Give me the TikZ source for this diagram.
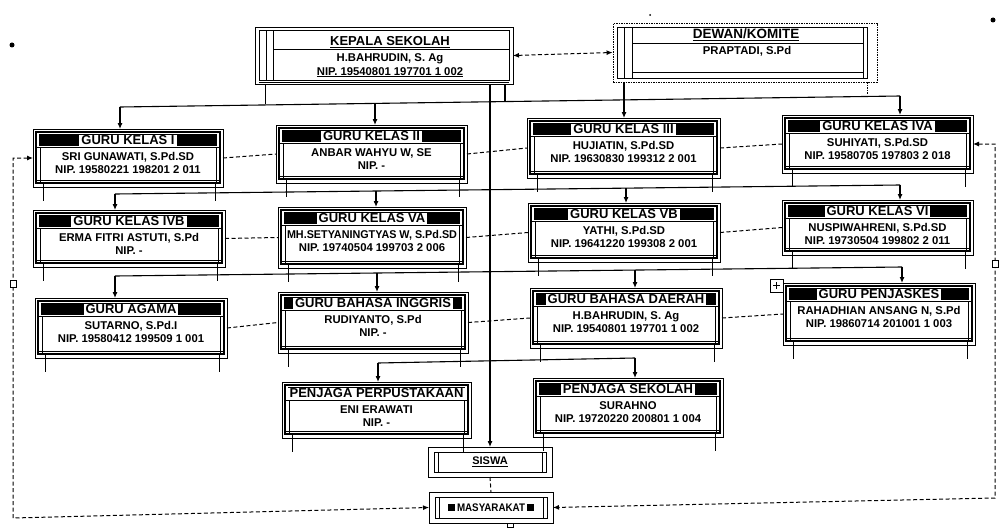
\documentclass[tikz,border=0pt]{standalone}
\usepackage{fontspec}
\setmainfont{Liberation Sans}
\usepackage{graphicx}
\usetikzlibrary{arrows.meta,calc}
\newsavebox\fitbx
\newcommand\fitl[2]{\sbox\fitbx{#2}\ifdim\wd\fitbx>#1\relax\resizebox{#1}{\height}{#2}\else\usebox\fitbx\fi}
\tikzset{
 obox/.style={draw, line width=0.8pt, inner sep=0pt, outer sep=0pt},
 ttl/.style={fill=white, inner xsep=2pt, inner ysep=0pt, text height=9.5pt, text depth=1.5pt, font=\fontsize{13}{13}\selectfont\bfseries},
 txt/.style={inner sep=0pt, text height=8pt, text depth=2pt, font=\fontsize{11.3}{11.3}\selectfont\bfseries},
 con/.style={line width=1.1pt},
 arr/.style={con, -{Latex[length=6pt,width=5pt]}},
 dsh/.style={line width=1pt, dash pattern=on 4pt off 2.5pt},
 dar/.style={dsh, {Latex[length=6pt,width=5pt]}-{Latex[length=6pt,width=5pt]}},
 tick/.style={line width=0.6pt},
}
% name, x1, y1, x2, y2, title, line1, line2
\newcommand\gbox[8]{%
 \node[obox,minimum width={#4-#2},minimum height={#5-#3}] (#1) at ({(#2+#4)/2},{(#3+#5)/2}) {};
 \draw[line width=1.1pt] ({#2+3},{#3+3}) rectangle ({#4-3},{#5-4});
 \fill ({#2+6},{#3+5}) rectangle ({#4-6},{#3+17});
 \draw[line width=0.9pt] ({#2+3},{#3+18.5}) -- ({#4-3},{#3+18.5});
 \draw[tick] ({#2+7},{#3+18.5}) -- ({#2+7},{#5-4}) ({#4-7},{#3+18.5}) -- ({#4-7},{#5-4});
 \draw[tick] ({#2+3},{#5-7}) -- ({#4-3},{#5-7});
 \draw[tick] ({#2+10},{#5-4}) -- ({#2+10},{#5+14}) ({#4-8},{#5-4}) -- ({#4-8},{#5+14});
 \pgfmathsetmacro\mw{#4-#2-18}%
 \pgfmathsetmacro\tw{#4-#2-14}%
 \node[ttl] at ({(#2+#4)/2},{#3+11}) {\fitl{\tw pt}{#6}};
 \node[txt] at ({(#2+#4)/2},{#3+28}) {\fitl{\mw pt}{#7}};
 \node[txt] at ({(#2+#4)/2},{#3+41}) {\fitl{\mw pt}{#8}};
}
\begin{document}
\begin{tikzpicture}[x=1pt,y=-1pt]
\fill[white] (0,0) rectangle (1000,527);
\useasboundingbox (0,0) rectangle (1000,527);

% stray dots of the scan
\fill (12,45) circle (2.5);
\fill (993,20) circle (2.5);
\fill (650,15) circle (1);

% KEPALA SEKOLAH
\node[obox,minimum width=258,minimum height=57] (KS) at (384,55.5) {};
\draw[line width=1pt] (259,31) rectangle (509,80);
\draw[tick] (266,31) -- (266,80) (273,31) -- (273,80);
\draw[line width=0.9pt] (273,49) -- (509,49);
\draw[tick] (259,82) -- (509,82);
\node[inner sep=0pt,font=\fontsize{13}{13}\selectfont\bfseries] at (390,42) {\underline{KEPALA SEKOLAH}};
\node[txt] at (390,59) {H.BAHRUDIN, S. Ag};
\node[txt] at (390,72) {\underline{NIP. 19540801 197701 1 002}};
\draw[tick] (265,84) -- (265,104);

% DEWAN / KOMITE
\node[draw,line width=0.9pt,dash pattern=on 1.5pt off 1pt,inner sep=0pt,minimum width=264,minimum height=59] (DW) at (745,52.5) {};
\draw[line width=0.9pt] (617,27) rectangle (867,78);
\draw[tick] (624,27) -- (624,78) (632,27) -- (632,78) (863,27) -- (863,78);
\draw[line width=0.9pt] (632,43) -- (863,43);
\draw[tick] (632,72) -- (863,72);
\draw[tick,dash pattern=on 1.5pt off 1pt] (867,82) -- (867,94);
\node[inner sep=0pt,font=\fontsize{13.5}{13.5}\selectfont\bfseries] at (746,35) {\underline{DEWAN/KOMITE}};
\node[txt] at (747,52) {PRAPTADI, S.Pd};

\draw[dar] (KS.east) -- (DW.west);

% row 1
\gbox{KA}{33}{129}{223}{187}{GURU KELAS I}{SRI GUNAWATI, S.Pd.SD}{NIP. 19580221 198201 2 011}
\gbox{KB}{276}{125}{467}{183}{GURU KELAS II}{ANBAR WAHYU W, SE}{NIP. -}
\gbox{KC}{527}{118}{720}{178}{GURU KELAS III}{HUJIATIN, S.Pd.SD}{NIP. 19630830 199312 2 001}
\gbox{KD}{782}{115}{973}{173}{GURU KELAS IVA}{SUHIYATI, S.Pd.SD}{NIP. 19580705 197803 2 018}
% row 2
\gbox{KE}{33}{210}{225}{267}{GURU KELAS IVB}{ERMA FITRI ASTUTI, S.Pd}{NIP. -}
\gbox{KF}{278}{207}{466}{268}{GURU KELAS VA}{MH.SETYANINGTYAS W, S.Pd.SD}{NIP. 19740504 199703 2 006}
\gbox{KG}{528}{203}{720}{262}{GURU KELAS VB}{YATHI, S.Pd.SD}{NIP. 19641220 199308 2 001}
\gbox{KH}{782}{200}{973}{255}{GURU KELAS VI}{NUSPIWAHRENI, S.Pd.SD}{NIP. 19730504 199802 2 011}
% row 3
\gbox{AG}{35}{298}{227}{358}{GURU AGAMA}{SUTARNO, S.Pd.I}{NIP. 19580412 199509 1 001}
\gbox{BI}{278}{292}{468}{353}{GURU BAHASA INGGRIS}{RUDIYANTO, S.Pd}{NIP. -}
\gbox{BD}{530}{288}{722}{348}{GURU BAHASA DAERAH}{H.BAHRUDIN, S. Ag}{NIP. 19540801 197701 1 002}
\gbox{PJ}{783}{283}{975}{345}{GURU PENJASKES}{RAHADHIAN ANSANG N, S.Pd}{NIP. 19860714 201001 1 003}
\draw[line width=0.7pt,fill=white] (770,279) rectangle (783,292);
\draw[line width=0.8pt] (773,285.5) -- (780,285.5) (776.5,282) -- (776.5,289);
% row 4
\gbox{PP}{282}{382}{471}{438}{PENJAGA PERPUSTAKAAN}{ENI ERAWATI}{NIP. -}
\gbox{PS}{533}{378}{723}{437}{PENJAGA SEKOLAH}{SURAHNO}{NIP. 19720220 200801 1 004}

% SISWA
\node[obox,minimum width=124,minimum height=30] (SW) at (490,462) {};
\draw[line width=1pt] (434,452) rectangle (546,472);
\draw[tick] (438,452) -- (438,472) (542,452) -- (542,472);
\node[inner sep=0pt,font=\fontsize{11}{11}\selectfont\bfseries] at (490,462) {\underline{SISWA}};
% MASYARAKAT
\node[obox,minimum width=124,minimum height=31] (MS) at (491,507.5) {};
\draw[line width=1pt] (435,497) rectangle (547,518);
\draw[tick] (439,497) -- (439,518) (543,497) -- (543,518);
\node[inner sep=0pt,font=\fontsize{11}{11}\selectfont\bfseries] at (491,507.5) {\rule{7pt}{7pt}\,\resizebox{68pt}{\height}{MASYARAKAT}\,\rule{7pt}{7pt}};
\draw[line width=0.7pt,fill=white] (507,523) rectangle (513,527);

% bus lines (slightly tilted like the scan)
\coordinate (a1) at (120,107); \coordinate (a2) at (375,103.4);
\coordinate (a3) at (625,100); \coordinate (a4) at (900,96);
\coordinate (ak) at (505,101.6);
\draw[con] (a1) -- (a4);
\draw[con] (KS.south -| ak) -- (ak);
\draw[arr] (a1) -- (a1 |- KA.north);
\draw[arr] (a2) -- (a2 |- KB.north);
\draw[arr] (DW.south -| 624,0) -- (624,0 |- KC.north);
\draw[arr] (a4) -- (a4 |- KD.north);

\coordinate (b1) at (115,194); \coordinate (b2) at (376,191);
\coordinate (b3) at (626,188); \coordinate (b4) at (900,185);
\draw[con] (b1) -- (b4);
\draw[arr] (b1) -- (b1 |- KE.north);
\draw[arr] (b2) -- (b2 |- KF.north);
\draw[arr] (b3) -- (b3 |- KG.north);
\draw[arr] (b4) -- (b4 |- KH.north);

\coordinate (c1) at (115,276); \coordinate (c2) at (377,273);
\coordinate (c3) at (635,270); \coordinate (c4) at (902,267);
\draw[con] (c1) -- (c4);
\draw[arr] (c1) -- (c1 |- AG.north);
\draw[arr] (c2) -- (c2 |- BI.north);
\draw[arr] (c3) -- (c3 |- BD.north);
\draw[arr] (c4) -- (c4 |- PJ.north);

\coordinate (e1) at (378,363); \coordinate (e2) at (635,358);
\draw[con] (e1) -- (e2);
\draw[arr] (e1) -- (e1 |- PP.north);
\draw[arr] (e2) -- (e2 |- PS.north);

% main vertical to SISWA
\draw[arr] (SW.north |- KS.south) -- (SW.north);
\draw[dsh] (SW.south) -- (MS.north);

% dashed links in rows
\draw[dsh] (KA.east) -- (KB.west);
\draw[dsh] (KB.east) -- (KC.west);
\draw[dsh] (KC.east) -- (KD.west);
\draw[dsh] (KE.east) -- (KF.west);
\draw[dsh] (KF.east) -- (KG.west);
\draw[dsh] (KG.east) -- (KH.west);
\draw[dsh] (AG.east) -- (BI.west);
\draw[dsh] (BI.east) -- (BD.west);
\draw[dsh] (BD.east) -- (PJ.west);

% feedback loops
\coordinate (LT) at (13,158); \coordinate (LB) at (13,518);
\draw[dar] (KA.west) -- (LT) -- (LB) -- (MS.west);
\coordinate (RT) at (995,144); \coordinate (RB) at (995,498);
\draw[dar] (KD.east) -- (RT) -- (RB) -- (MS.east);
\draw[line width=0.7pt,fill=white] (10,280) rectangle (16,287);
\draw[line width=0.7pt,fill=white] (992,260) rectangle (998,267);
\end{tikzpicture}
\end{document}
